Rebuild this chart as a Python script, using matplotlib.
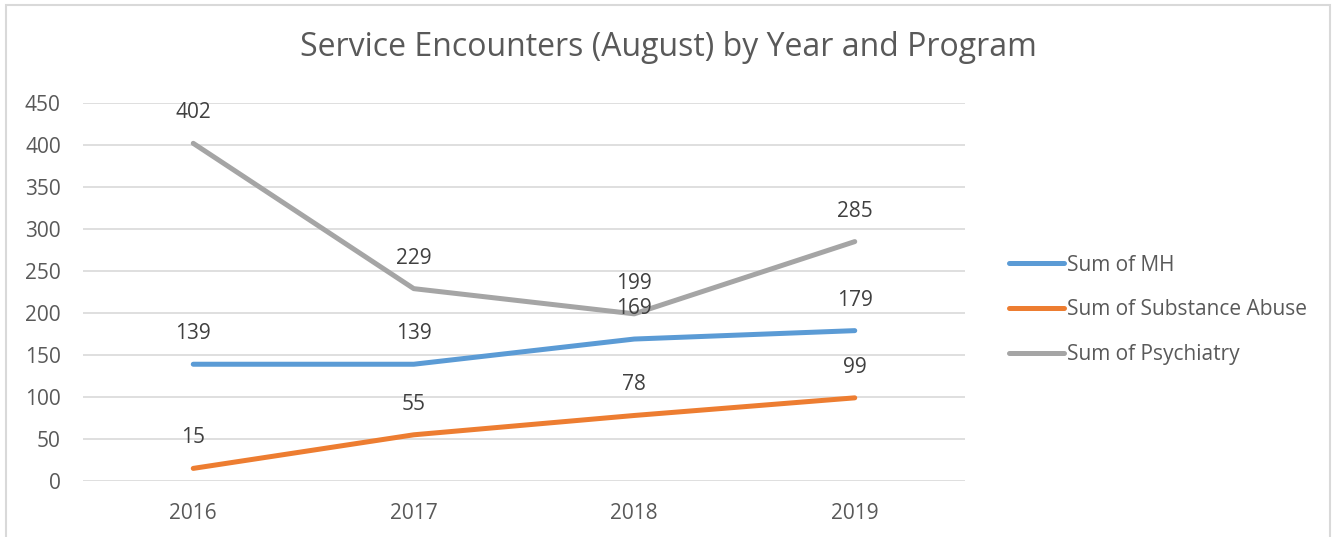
import matplotlib.pyplot as plt
from matplotlib.patches import Rectangle

years = ['2016', '2017', '2018', '2019']
mh = [139, 139, 169, 179]
substance = [15, 55, 78, 99]
psychiatry = [402, 229, 199, 285]
series_names = ['Sum of MH', 'Sum of Substance Abuse', 'Sum of Psychiatry']
colors = ['#5B9BD5', '#ED7D31', '#A5A5A5']

plt.rcParams['font.family'] = ['Open Sans', 'DejaVu Sans']

fig = plt.figure(figsize=(13.36, 5.37), dpi=100)
fig.patches.append(Rectangle((6 / 1336, -0.1), 1324 / 1336, 1 - 4.5 / 537 + 0.1,
                             transform=fig.transFigure, fill=False,
                             edgecolor='#D9D9D9', linewidth=1.5))

ax = fig.add_axes([83 / 1336, 1 - 481 / 537, 882 / 1336, 378 / 537])
x = range(len(years))
lines = []
for vals, name, c in zip([mh, substance, psychiatry], series_names, colors):
    ln, = ax.plot(x, vals, color=c, linewidth=3.6, solid_capstyle='round', label=name)
    lines.append(ln)
    for i, v in enumerate(vals):
        ax.annotate(str(v), (i, v), xytext=(0, 22), textcoords='offset points',
                    ha='center', va='center', fontsize=15, color='#404040')

ax.set_xlim(-0.5, 3.5)
ax.set_ylim(0, 450)
ax.set_yticks(range(0, 451, 50))
ax.set_xticks(list(x))
ax.set_xticklabels(years)
ax.grid(axis='y', color='#D9D9D9', linewidth=1.2)
ax.set_axisbelow(True)
for s in ax.spines.values():
    s.set_visible(False)
ax.tick_params(length=0, labelsize=15, labelcolor='#595959')
ax.tick_params(axis='y', pad=16)
ax.tick_params(axis='x', pad=16)

fig.text(0.5, 1 - 48 / 537, 'Service Encounters (August) by Year and Program',
         ha='center', va='center', fontsize=23, color='#595959')

fig.legend(handles=lines, loc='center left', bbox_to_anchor=(990 / 1336, 1 - 310 / 537),
           frameon=False, fontsize=15, labelcolor='#595959', handlelength=2.65,
           handletextpad=0.15, labelspacing=1.15)

fig.savefig('out.png', dpi=100)
